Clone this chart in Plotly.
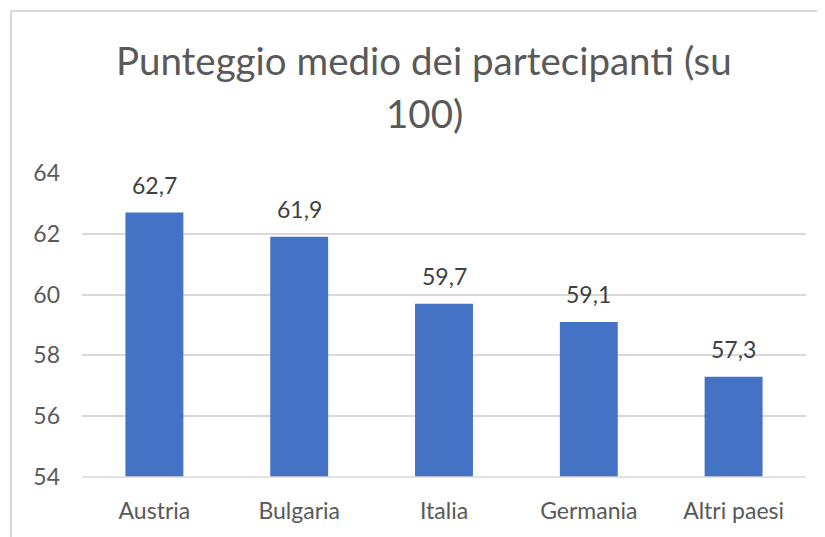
import plotly.graph_objects as go

categories = ["Austria", "Bulgaria", "Italia", "Germania", "Altri paesi"]
values = [62.7, 61.9, 59.7, 59.1, 57.3]
value_labels = ["62,7", "61,9", "59,7", "59,1", "57,3"]
title_lines = ["Punteggio medio dei partecipanti (su", "100)"]
y_ticks = [54, 56, 58, 60, 62, 64]

# page body has an 8px margin; figure coordinates = screen - 8
W, H = 817, 529
L, R, T, B = 74, 19, 165, 60
pw, ph = W - L - R, H - T - B

def px_x(x):
    return (x - L) / pw

def px_y(y):
    return (H - B - y) / ph

FONT = "Lato"
GREY = "#595959"
fig = go.Figure(go.Bar(
    x=categories, y=values,
    marker=dict(color="#4472C4", line=dict(width=0)),
    hoverinfo="x+y",
))

annotations = [
    dict(text=title_lines[0], xref="paper", yref="paper",
         x=px_x(416), y=px_y(52), xanchor="center", yanchor="middle",
         showarrow=False, font=dict(family=FONT, size=38.5, color=GREY)),
    dict(text=title_lines[1], xref="paper", yref="paper",
         x=px_x(416), y=px_y(105), xanchor="center", yanchor="middle",
         showarrow=False, font=dict(family=FONT, size=38.5, color=GREY)),
]
for c, v, t in zip(categories, values, value_labels):
    annotations.append(dict(
        x=c, y=v, xref="x", yref="y", text=t, showarrow=False,
        xanchor="center", yanchor="middle", yshift=28,
        font=dict(family=FONT, size=23, color="#404040")))

fig.update_layout(
    width=W, height=H,
    margin=dict(l=L, r=R, t=T, b=B),
    paper_bgcolor="white", plot_bgcolor="white",
    bargap=0.6,
    showlegend=False,
    font=dict(family=FONT, color=GREY),
    xaxis=dict(showgrid=False, showline=False, ticks="",
               ticklabelstandoff=18,
               tickfont=dict(family=FONT, size=23, color=GREY)),
    yaxis=dict(range=[54, 64], tickvals=y_ticks, showgrid=True,
               gridcolor="#d9d9d9", gridwidth=1.5, zeroline=False,
               ticks="", ticklabelstandoff=21,
               tickfont=dict(family=FONT, size=23, color=GREY)),
    shapes=[
        dict(type="line", xref="paper", yref="paper",
             x0=0, x1=1, y0=0, y1=0, line=dict(color="#d9d9d9", width=1.5)),
        dict(type="rect", xref="paper", yref="paper",
             x0=px_x(3), x1=px_x(840), y0=px_y(560), y1=px_y(3),
             line=dict(color="#d9d9d9", width=2), fillcolor="rgba(0,0,0,0)"),
    ],
    annotations=annotations,
)

fig.write_html("out.html")
